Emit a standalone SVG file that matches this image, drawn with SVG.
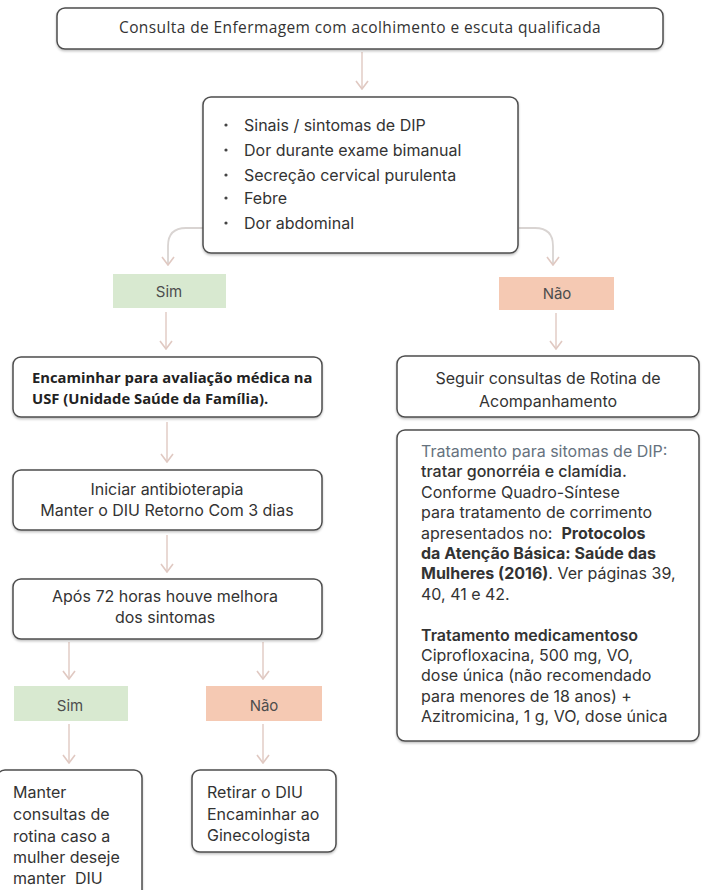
<svg xmlns="http://www.w3.org/2000/svg" width="702" height="890" viewBox="0 0 702 890">
  <defs>
    <!-- open chevron arrowhead, drawn along +x so orient="auto" points it down the path -->
    <marker id="arr" viewBox="0 0 10 14" refX="9" refY="7" markerWidth="10" markerHeight="14" markerUnits="userSpaceOnUse" orient="auto">
      <path d="M1 1 L9 7 L1 13" fill="none" stroke="#e0c9c2" stroke-width="1.6"/>
    </marker>
    <filter id="sh" x="-5%" y="-5%" width="110%" height="120%">
      <feDropShadow dx="0" dy="1.5" stdDeviation="1" flood-color="#000" flood-opacity="0.25"/>
    </filter>
    <style>
      .box { fill: #ffffff; stroke: #4d4d4d; stroke-width: 1.5; filter: url(#sh); }
      .sim { fill: #d8e9d0; }
      .nao { fill: #f5c9b3; }
      .conn { fill: none; stroke: #e2cdc6; stroke-width: 1.5; marker-end: url(#arr); }
      .conn2 { fill: none; stroke: #d9d4d2; stroke-width: 1.8; marker-end: url(#arr); }
      text { font-family: Inter, "Noto Sans", "Liberation Sans", sans-serif; font-size: 16px; fill: #333333; }
      .c { text-anchor: middle; }
      .hd { font-family: "Open Sans", "Liberation Sans", sans-serif; font-size: 15.5px; letter-spacing: 0.4px; }
      .bd { font-family: "Open Sans", "Liberation Sans", sans-serif; font-weight: 700; font-size: 14.8px; fill: #222; }
      .lbl { font-size: 15px; fill: #4d4d4d; }
      .b { font-weight: 700; }
      .sb { font-weight: 600; }
      .md { font-weight: 500; }
      .blue { fill: #66727e; }
    </style>
  </defs>

  <!-- connectors -->
  <g id="connectors">
    <path class="conn" d="M362 52 V89"/>
    <path class="conn2" d="M203 228 H186 Q168 228 168 246 V265"/>
    <path class="conn2" d="M519 228 H535 Q553 228 553 246 V265"/>
    <path class="conn" d="M166 312 V349"/>
    <path class="conn" d="M556 313 V349"/>
    <path class="conn" d="M167 422 V462"/>
    <path class="conn" d="M167 535 V572"/>
    <path class="conn" d="M69 642 V679"/>
    <path class="conn" d="M263 642 V679"/>
    <path class="conn" d="M69 724 V763"/>
    <path class="conn" d="M263 724 V763"/>
  </g>

  <g id="consulta">
    <rect class="box" x="57" y="8" width="606" height="41" rx="8"/>
    <text class="hd c" x="360" y="33">Consulta de Enfermagem com acolhimento e escuta qualificada</text>
  </g>

  <g id="sinais">
    <rect class="box" x="203" y="97" width="315" height="156" rx="8"/>
    <g fill="#444">
      <circle cx="226" cy="125" r="1.6"/>
      <circle cx="226" cy="150" r="1.6"/>
      <circle cx="226" cy="175" r="1.6"/>
      <circle cx="226" cy="198" r="1.6"/>
      <circle cx="226" cy="223" r="1.6"/>
    </g>
    <text x="244" y="131">Sinais / sintomas de DIP</text>
    <text x="244" y="156">Dor durante exame bimanual</text>
    <text x="244" y="181">Secreção cervical purulenta</text>
    <text x="244" y="204">Febre</text>
    <text x="244" y="229">Dor abdominal</text>
  </g>

  <g id="sim1">
    <rect class="sim" x="113" y="274" width="113" height="34"/>
    <text class="lbl c" x="169" y="297">Sim</text>
  </g>

  <g id="nao1">
    <rect class="nao" x="499" y="277" width="115" height="33"/>
    <text class="lbl c" x="557" y="299">Não</text>
  </g>

  <g id="encaminhar">
    <rect class="box" x="13" y="357" width="309" height="60" rx="8"/>
    <text class="bd" x="32" y="383">Encaminhar para avaliação médica na</text>
    <text class="bd" x="32" y="404">USF (Unidade Saúde da Família).</text>
  </g>

  <g id="seguir">
    <rect class="box" x="397" y="356" width="302" height="61" rx="8"/>
    <text class="c" x="548" y="384">Seguir consultas de Rotina de</text>
    <text class="c" x="548" y="407">Acompanhamento</text>
  </g>

  <g id="tratamento">
    <rect class="box" x="397" y="430" width="302" height="311" rx="8"/>
    <text x="421" y="457" class="blue">Tratamento para sitomas de DIP:</text>
    <text x="421" y="477" class="md">tratar gonorréia e clamídia.</text>
    <text x="421" y="498">Conforme Quadro-Síntese</text>
    <text x="421" y="518">para tratamento de corrimento</text>
    <text x="421" y="539">apresentados no:&#160; <tspan class="b">Protocolos</tspan></text>
    <text x="421" y="559" class="b">da Atenção Básica: Saúde das</text>
    <text x="421" y="579"><tspan class="b">Mulheres (2016)</tspan>. Ver páginas 39,</text>
    <text x="421" y="600">40, 41 e 42.</text>
    <text x="421" y="641" class="sb">Tratamento medicamentoso</text>
    <text x="421" y="661">Ciprofloxacina, 500 mg, VO,</text>
    <text x="421" y="681">dose única (não recomendado</text>
    <text x="421" y="702">para menores de 18 anos) +</text>
    <text x="421" y="722">Azitromicina, 1 g, VO, dose única</text>
  </g>

  <g id="iniciar">
    <rect class="box" x="13" y="470" width="309" height="60" rx="8"/>
    <text class="c" x="167" y="495">Iniciar antibioterapia</text>
    <text class="c" x="167" y="516">Manter o DIU Retorno Com 3 dias</text>
  </g>

  <g id="apos">
    <rect class="box" x="13" y="579" width="309" height="60" rx="8"/>
    <text class="c" x="165" y="602">Após 72 horas houve melhora</text>
    <text class="c" x="165" y="623">dos sintomas</text>
  </g>

  <g id="sim2">
    <rect class="sim" x="14" y="686" width="114" height="35"/>
    <text class="lbl c" x="70" y="711">Sim</text>
  </g>

  <g id="nao2">
    <rect class="nao" x="206" y="686" width="116" height="35"/>
    <text class="lbl c" x="264" y="711">Não</text>
  </g>

  <g id="manter">
    <rect class="box" x="-3" y="770" width="145" height="130" rx="8"/>
    <text x="13" y="798">Manter</text>
    <text x="13" y="820">consultas de</text>
    <text x="13" y="842">rotina caso a</text>
    <text x="13" y="863">mulher deseje</text>
    <text x="13" y="884">manter&#160; DIU</text>
  </g>

  <g id="retirar">
    <rect class="box" x="192" y="770" width="144" height="82" rx="8"/>
    <text x="207" y="798">Retirar o DIU</text>
    <text x="207" y="820">Encaminhar ao</text>
    <text x="207" y="841">Ginecologista</text>
  </g>
</svg>
